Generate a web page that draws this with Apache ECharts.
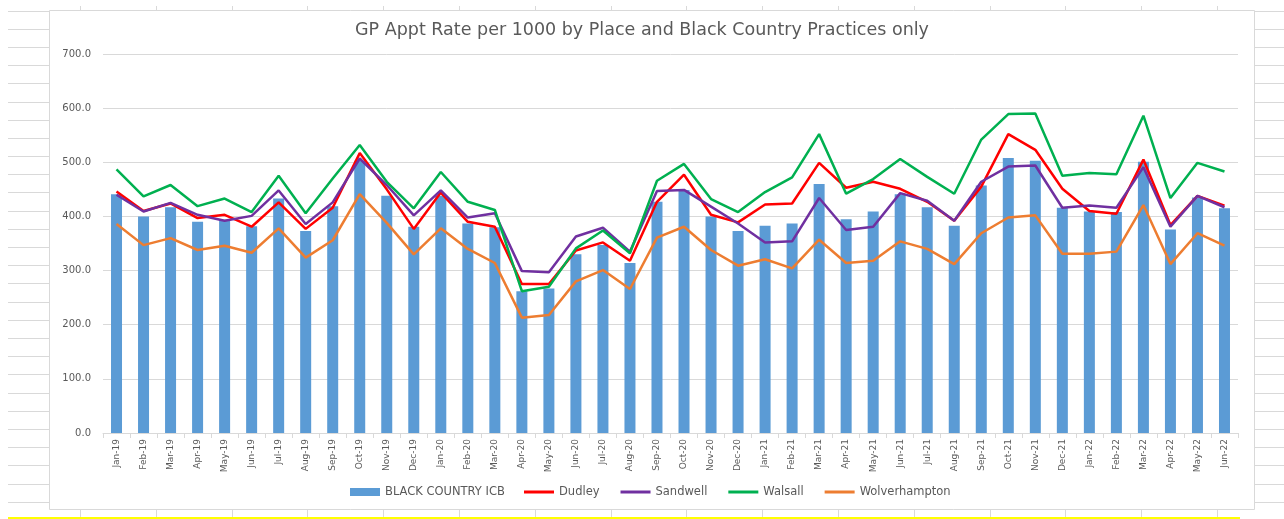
<!DOCTYPE html>
<html>
<head>
<meta charset="utf-8">
<script src="https://cdn.jsdelivr.net/npm/echarts@6/dist/echarts.min.js"></script>
<style>
html,body{margin:0;padding:0;background:#fff;}
#chart{width:1284px;height:519px;}
</style>
</head>
<body>
<div id="chart"></div>
<script>
var categories = ['Jan-19','Feb-19','Mar-19','Apr-19','May-19','Jun-19','Jul-19','Aug-19','Sep-19','Oct-19','Nov-19','Dec-19',
  'Jan-20','Feb-20','Mar-20','Apr-20','May-20','Jun-20','Jul-20','Aug-20','Sep-20','Oct-20','Nov-20','Dec-20',
  'Jan-21','Feb-21','Mar-21','Apr-21','May-21','Jun-21','Jul-21','Aug-21','Sep-21','Oct-21','Nov-21','Dec-21',
  'Jan-22','Feb-22','Mar-22','Apr-22','May-22','Jun-22'];
var blackCountryICB = [441,400,417,390,394,382,433,373,419,503,438,381,
  438,387,380,262,267,330,347,314,427,449,400,373,
  383,387,460,395,409,441,417,383,457,508,503,416,
  409,408,501,376,435,415];
var dudley = [446,410,424,397,403,381,426,377,416,517,450,377,
  444,390,381,275,275,337,352,318,427,477,403,389,
  422,424,499,453,464,451,427,392,455,552,523,451,
  410,405,505,384,438,420];
var sandwell = [440,409,425,403,392,401,448,386,426,507,458,402,
  448,398,406,299,297,363,379,335,447,449,418,387,
  352,354,434,375,381,443,429,392,464,492,494,416,
  420,416,491,381,438,417];
var walsall = [487,437,458,419,433,408,475,406,470,532,464,415,
  482,427,412,262,270,341,374,332,466,497,432,408,
  445,472,552,442,469,506,473,442,542,589,590,475,
  480,478,586,434,499,483];
var wolverhampton = [386,347,360,338,346,333,378,324,356,441,388,330,
  378,340,314,213,218,280,301,266,361,381,338,309,
  321,304,357,314,318,354,340,312,369,398,402,331,
  331,335,421,312,369,346];
var yTickLabels = ['0.0','100.0','200.0','300.0','400.0','500.0','600.0','700.0'];

var textColor = '#595959';
var gridColor = '#d9d9d9';

// decorative spreadsheet background
var deco = [];
deco.push({type:'rect', z:-10, shape:{x:49.5,y:10.5,width:1205,height:499}, style:{fill:'#fff', stroke:gridColor, lineWidth:1}});
for (var y = 10.5; y < 512; y += 18.2) {
  deco.push({type:'line', z:-10, shape:{x1:8,y1:Math.round(y)+0.5,x2:49,y2:Math.round(y)+0.5}, style:{stroke:gridColor, lineWidth:1}});
  deco.push({type:'line', z:-10, shape:{x1:1255,y1:Math.round(y)+0.5,x2:1284,y2:Math.round(y)+0.5}, style:{stroke:gridColor, lineWidth:1}});
}
for (var x = 80; x < 1284; x += 75.8) {
  deco.push({type:'line', z:-10, shape:{x1:Math.round(x)+0.5,y1:6,x2:Math.round(x)+0.5,y2:10}, style:{stroke:gridColor, lineWidth:1}});
  deco.push({type:'line', z:-10, shape:{x1:Math.round(x)+0.5,y1:510,x2:Math.round(x)+0.5,y2:517}, style:{stroke:gridColor, lineWidth:1}});
}
deco.push({type:'line', z:-10, shape:{x1:8,y1:518,x2:1240,y2:518}, style:{stroke:'#ffff00', lineWidth:2}});

function lineSeries(name, data, color) {
  return {name:name, type:'line', data:data, symbol:'none',
    lineStyle:{color:color, width:2.5}, itemStyle:{color:color}, z:3};
}

var legendText = {fontFamily:'DejaVu Sans', fontSize:11.5, color:textColor};

var chart = echarts.init(document.getElementById('chart'), null, {renderer:'canvas'});
chart.setOption({
  animation:false,
  backgroundColor:'#fff',
  graphic: deco,
  title:{text:'GP Appt Rate per 1000 by Place and Black Country Practices only', left:'center', top:16,
    textStyle:{fontFamily:'DejaVu Sans', fontSize:17.5, fontWeight:'normal', color:textColor}},
  grid:{left:103, right:46, top:54, bottom:86, containLabel:false},
  legend:[
    {left:350, top:486, padding:0, itemWidth:30, itemHeight:8, icon:'rect',
      textStyle:legendText, data:['BLACK COUNTRY ICB']},
    {left:524, top:486, padding:0, itemWidth:30, itemHeight:3, itemGap:21, icon:'rect',
      textStyle:legendText, data:['Dudley','Sandwell','Walsall','Wolverhampton']}
  ],
  xAxis:{type:'category', data:categories,
    axisLine:{lineStyle:{color:gridColor}},
    axisTick:{show:true, length:5, lineStyle:{color:gridColor}},
    axisLabel:{rotate:90, interval:0, margin:6, fontFamily:'DejaVu Sans', fontSize:9, color:textColor}},
  yAxis:{type:'value', min:0, max:700, interval:100,
    axisLine:{show:false}, axisTick:{show:false},
    splitLine:{lineStyle:{color:gridColor}},
    axisLabel:{margin:12, fontFamily:'DejaVu Sans', fontSize:10, color:textColor,
      formatter:function(v){return yTickLabels[Math.round(v/100)];}}},
  series:[
    {name:'BLACK COUNTRY ICB', type:'bar', data:blackCountryICB, barWidth:11, itemStyle:{color:'#5b9bd5'}, z:2},
    lineSeries('Dudley', dudley, '#ff0000'),
    lineSeries('Sandwell', sandwell, '#7030a0'),
    lineSeries('Walsall', walsall, '#00b050'),
    lineSeries('Wolverhampton', wolverhampton, '#ed7d31')
  ]
});
</script>
</body>
</html>
